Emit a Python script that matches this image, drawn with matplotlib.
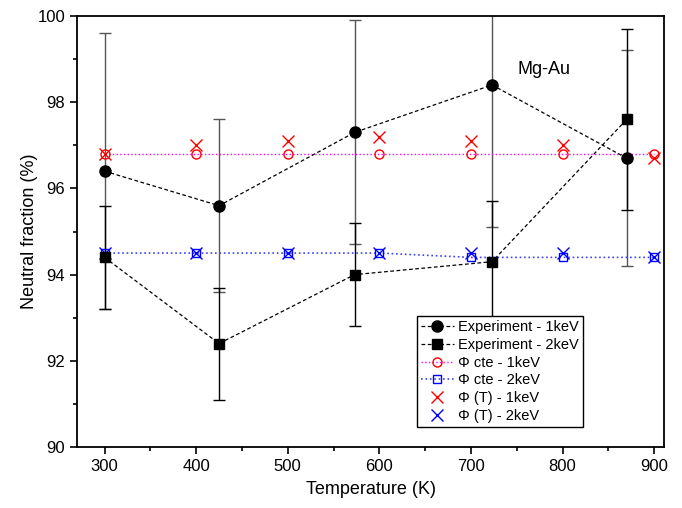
import numpy as np
import matplotlib.pyplot as plt

plt.rcParams['font.family'] = ['Liberation Sans', 'DejaVu Sans']

# experiment data
t_exp = [300, 425, 573, 723, 870]
exp_1kev = [96.4, 95.6, 97.3, 98.4, 96.7]
err_1kev = [3.2, 2.0, 2.6, 3.3, 2.5]
exp_2kev = [94.4, 92.4, 94.0, 94.3, 97.6]
err_2kev = [1.2, 1.3, 1.2, 1.4, 2.1]

# model data
t_mod = [300, 400, 500, 600, 700, 800, 900]
cte_1kev = [96.8, 96.8, 96.8, 96.8, 96.8, 96.8, 96.8]
cte_2kev = [94.5, 94.5, 94.5, 94.5, 94.4, 94.4, 94.4]
phiT_1kev = [96.8, 97.0, 97.1, 97.2, 97.1, 97.0, 96.7]
phiT_2kev = [94.5, 94.5, 94.5, 94.5, 94.5, 94.5, 94.4]

fig = plt.figure(figsize=(6.82, 5.08), dpi=100)
ax = fig.add_axes([0.113, 0.12, 0.861, 0.8485])

ax.errorbar(t_exp, exp_1kev, yerr=err_1kev, fmt='none', ecolor='#555555',
            elinewidth=1, capsize=4, capthick=1, zorder=2)
ax.errorbar(t_exp, exp_2kev, yerr=err_2kev, fmt='none', ecolor='black',
            elinewidth=1, capsize=4, capthick=1, zorder=2)

ax.plot(t_exp, exp_1kev, 'k--', marker='o', ms=8, lw=0.9, dashes=(3, 2),
        label='Experiment - 1keV', zorder=4)
ax.plot(t_exp, exp_2kev, 'k--', marker='s', ms=6.5, lw=0.9, dashes=(3, 2),
        label='Experiment - 2keV', zorder=4)
ax.plot(t_mod, cte_1kev, color='magenta', ls=':', lw=1, marker='o', ms=6.5,
        mfc='none', mec='red', label='\u03a6 cte - 1keV', zorder=3)
ax.plot(t_mod, cte_2kev, color='#4040ff', ls=':', lw=1.2, marker='s', ms=5.5,
        mfc='none', mec='blue', label='\u03a6 cte - 2keV', zorder=3)
ax.plot(t_mod, phiT_1kev, ls='none', marker='x', ms=8, mew=1, color='red',
        label='\u03a6 (T) - 1keV', zorder=3)
ax.plot(t_mod, phiT_2kev, ls='none', marker='x', ms=8, mew=1, color='blue',
        label='\u03a6 (T) - 2keV', zorder=3)

ax.set_xlim(270, 911)
ax.set_ylim(90, 100)
ax.set_xticks(np.arange(300, 901, 100))
ax.set_xticks(np.arange(350, 901, 100), minor=True)
ax.set_yticks(np.arange(90, 101, 2))
ax.set_yticks(np.arange(91, 100, 2), minor=True)
ax.tick_params(which='both', direction='out', labelsize=12, width=1.2)
ax.tick_params(which='major', length=5)
ax.tick_params(which='minor', length=3)
for s in ax.spines.values():
    s.set_linewidth(1.3)

ax.set_xlabel('Temperature (K)', fontsize=13, labelpad=5)
ax.set_ylabel('Neutral fraction (%)', fontsize=13, labelpad=0)
ax.text(780, 98.75, 'Mg-Au', fontsize=13, ha='center', va='center')

leg = ax.legend(loc='upper left', bbox_to_anchor=(0.579, 0.304), borderaxespad=0,
                fontsize=10.5, frameon=True, fancybox=False, edgecolor='black',
                framealpha=1, handlelength=2.2, handletextpad=0.3,
                labelspacing=0.25, borderpad=0.3)
leg.get_frame().set_linewidth(1)
leg.set_zorder(10)

fig.savefig('out.png', dpi=100)
